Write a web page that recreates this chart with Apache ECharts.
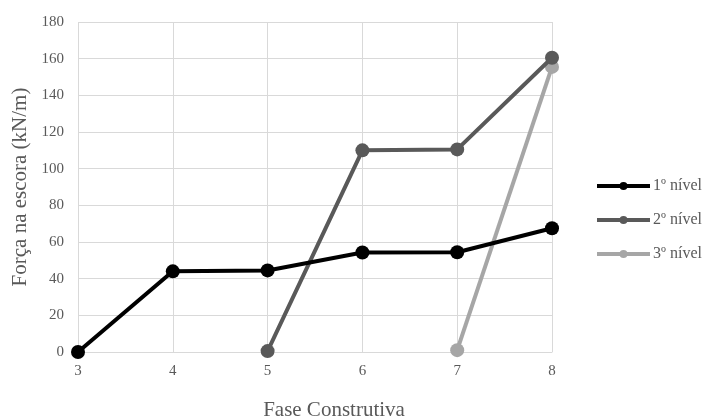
<!DOCTYPE html>
<html>
<head>
<meta charset="utf-8">
<script src="https://cdn.jsdelivr.net/npm/echarts@6/dist/echarts.min.js"></script>
<style>
  html, body { margin: 0; padding: 0; background: #fff; }
  #chart { width: 704px; height: 417px; }
</style>
</head>
<body>
<div id="chart"></div>
<script>
// Construction phases (x) and strut forces per level (kN/m); null = level not yet installed
var fases = [3, 4, 5, 6, 7, 8];
var nivel1 = [0, 44, 44.5, 54.3, 54.4, 67.5];
var nivel2 = [null, null, 0.5, 110, 110.5, 160.5];
var nivel3 = [null, null, null, null, 1, 155.5];
var seriesNames = ['1º nível', '2º nível', '3º nível'];
var seriesColors = ['#000000', '#595959', '#a6a6a6'];

function pairs(values) {
  var out = [];
  for (var i = 0; i < fases.length; i++) {
    if (values[i] !== null) out.push([fases[i], values[i]]);
  }
  return out;
}

var font = '"Liberation Serif", "Times New Roman", serif';
var chart = echarts.init(document.getElementById('chart'));
var seriesData = [nivel1, nivel2, nivel3];

chart.setOption({
  animation: false,
  textStyle: { fontFamily: font },
  grid: { left: 78, right: 152, top: 22, bottom: 65, outerBoundsMode: 'none', containLabel: false },
  legend: {
    orient: 'vertical',
    left: 590,
    top: 173,
    padding: 5,
    itemWidth: 53,
    itemHeight: 10,
    itemGap: 18,
    lineStyle: { width: 4 },
    textStyle: { fontFamily: font, fontSize: 16, color: '#595959', padding: [0, 0, 0, -2] },
    data: seriesNames
  },
  xAxis: {
    type: 'value',
    min: 3, max: 8, interval: 1,
    name: 'Fase Construtiva',
    nameLocation: 'middle',
    nameGap: 48,
    nameTextStyle: { fontFamily: font, fontSize: 21, color: '#595959', padding: [0, 0, 0, 38] },
    axisLine: { show: true, lineStyle: { color: '#d9d9d9', width: 1 } },
    axisTick: { show: false },
    axisLabel: { fontFamily: font, fontSize: 15, color: '#595959', margin: 12 },
    splitLine: { show: true, lineStyle: { color: '#d9d9d9', width: 1 } }
  },
  yAxis: {
    type: 'value',
    min: 0, max: 180, interval: 20,
    name: 'Força na escora (kN/m)',
    nameLocation: 'middle',
    nameGap: 45,
    nameTextStyle: { fontFamily: font, fontSize: 21, color: '#595959' },
    axisLine: { show: false },
    axisTick: { show: false },
    axisLabel: { fontFamily: font, fontSize: 15, color: '#595959', margin: 14 },
    splitLine: { show: true, lineStyle: { color: '#d9d9d9', width: 1 } }
  },
  series: seriesNames.map(function (name, k) {
    return {
      name: name,
      type: 'line',
      data: pairs(seriesData[k]),
      symbol: 'circle',
      symbolSize: 14,
      showAllSymbol: true,
      color: seriesColors[k],
      lineStyle: { width: 4, color: seriesColors[k] },
      itemStyle: { color: seriesColors[k] },
      z: 10 - k
    };
  })
});
</script>
</body>
</html>
